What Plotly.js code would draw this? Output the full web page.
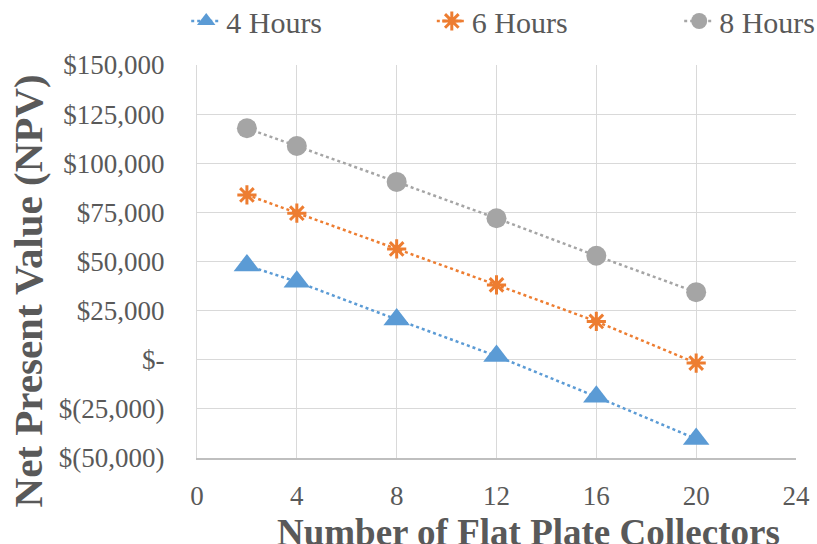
<!DOCTYPE html>
<html>
<head>
<meta charset="utf-8">
<script src="https://cdn.plot.ly/plotly-3.0.1.min.js"></script>
<style>html,body{margin:0;padding:0;background:#fff;}#chart{width:817px;height:544px;}</style>
</head>
<body>
<div id="chart"></div>
<script>
// Data
const collectors = [2, 4, 8, 12, 16, 20];
const npv4Hours = [48000, 39700, 20500, 1900, -18800, -40300];
const npv6Hours = [83900, 74600, 56400, 38100, 19500, -1700];
const npv8Hours = [117800, 108800, 90500, 72000, 52900, 34400];
const seriesNames = ['4 Hours', '6 Hours', '8 Hours'];

const yTickVals = [150000, 125000, 100000, 75000, 50000, 25000, 0, -25000, -50000];
const yTickText = ['$150,000', '$125,000', '$100,000', '$75,000', '$50,000', '$25,000', '$-', '$(25,000)', '$(50,000)'];
const xTickVals = [0, 4, 8, 12, 16, 20, 24];

const FONT = '"Liberation Serif", "Times New Roman", serif';
const TXT = '#595959';

const traces = [
  {
    x: collectors, y: npv4Hours, name: seriesNames[0], type: 'scatter', mode: 'lines+markers',
    legend: 'legend',
    line: {color: '#5B9BD5', width: 2.5, dash: 'dot'},
    marker: {symbol: 'triangle-up', size: 23, color: '#5B9BD5'}
  },
  {
    x: collectors, y: npv6Hours, name: seriesNames[1], type: 'scatter', mode: 'lines+markers',
    legend: 'legend2',
    line: {color: '#ED7D31', width: 2.5, dash: 'dot'},
    marker: {symbol: 'asterisk-open', size: 16, color: '#ED7D31', line: {color: '#ED7D31', width: 3}}
  },
  {
    x: collectors, y: npv8Hours, name: seriesNames[2], type: 'scatter', mode: 'lines+markers',
    legend: 'legend3',
    line: {color: '#A5A5A5', width: 2.5, dash: 'dot'},
    marker: {symbol: 'circle', size: 20, color: '#A5A5A5'}
  }
];

function legendAt(xPaper) {
  return {
    orientation: 'h', x: xPaper, xanchor: 'left', y: 1.112, yanchor: 'middle',
    font: {family: FONT, size: 30, color: TXT},
    bgcolor: 'rgba(0,0,0,0)'
  };
}

const layout = {
  width: 817, height: 544,
  margin: {l: 197, r: 21, t: 65, b: 86, autoexpand: false},
  paper_bgcolor: '#fff', plot_bgcolor: '#fff',
  font: {family: FONT, color: TXT, size: 27},
  showlegend: true,
  legend: legendAt(-0.018),
  legend2: legendAt(0.392),
  legend3: legendAt(0.805),
  xaxis: {
    range: [0, 24], tickvals: xTickVals, ticktext: xTickVals.map(String),
    showgrid: true, gridcolor: '#D9D9D9', gridwidth: 1,
    zeroline: false, showline: true, linecolor: '#BFBFBF', linewidth: 1.5,
    ticks: '', ticklabelstandoff: 13,
    tickfont: {family: FONT, size: 27, color: TXT},
    fixedrange: true
  },
  yaxis: {
    range: [-50000, 150000], tickvals: yTickVals, ticktext: yTickText,
    showgrid: true, gridcolor: '#D9D9D9', gridwidth: 1,
    zeroline: false, showline: true, linecolor: '#D9D9D9', linewidth: 1,
    ticks: '', ticklabelstandoff: 26,
    tickfont: {family: FONT, size: 27, color: TXT},
    fixedrange: true
  },
  annotations: [
    {
      text: '<b>Number of Flat Plate Collectors</b>', xref: 'paper', yref: 'paper',
      x: 0.553, y: -0.19, xanchor: 'center', yanchor: 'middle', showarrow: false,
      font: {family: FONT, size: 37, color: TXT}
    },
    {
      text: '<b>Net Present Value (NPV)</b>', xref: 'paper', yref: 'paper',
      x: -0.283, y: 0.425, xanchor: 'center', yanchor: 'middle', showarrow: false, textangle: -90,
      font: {family: FONT, size: 41, color: TXT}
    }
  ]
};

Plotly.newPlot('chart', traces, layout, {displayModeBar: false, staticPlot: true});
</script>
</body>
</html>
